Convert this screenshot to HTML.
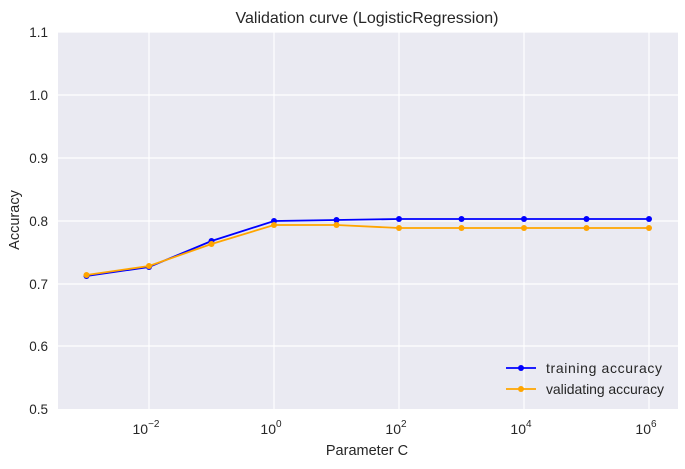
<!DOCTYPE html>
<html><head><meta charset="utf-8"><style>
body{margin:0;background:#fff;}
svg text{font-family:"Liberation Sans","DejaVu Sans",sans-serif;fill:#262626;}
</style></head><body>
<svg width="685" height="464" xmlns="http://www.w3.org/2000/svg">
<rect x="0" y="0" width="685" height="464" fill="#fff"/>
<rect x="58" y="32" width="620" height="377" fill="#eaeaf2"/>
<g stroke="#fff" stroke-width="1.2">
<line x1="58" x2="678" y1="32" y2="32"/><line x1="58" x2="678" y1="95" y2="95"/>
<line x1="58" x2="678" y1="158" y2="158"/><line x1="58" x2="678" y1="221" y2="221"/>
<line x1="58" x2="678" y1="284" y2="284"/><line x1="58" x2="678" y1="346" y2="346"/>
<line x1="149" x2="149" y1="32" y2="409"/><line x1="274" x2="274" y1="32" y2="409"/>
<line x1="399" x2="399" y1="32" y2="409"/><line x1="524" x2="524" y1="32" y2="409"/>
<line x1="649" x2="649" y1="32" y2="409"/>
</g>
<g font-size="13.5" text-anchor="end">
<text x="48" y="37">1.1</text><text x="48" y="100">1.0</text><text x="48" y="163">0.9</text>
<text x="48" y="226">0.8</text><text x="48" y="289">0.7</text><text x="48" y="351">0.6</text>
<text x="48" y="414">0.5</text>
</g>
<g font-size="14" text-anchor="middle">
<text x="146" y="434">10<tspan font-size="10" dy="-7">−2</tspan></text>
<text x="271" y="434">10<tspan font-size="10" dy="-7">0</tspan></text>
<text x="396" y="434">10<tspan font-size="10" dy="-7">2</tspan></text>
<text x="521" y="434">10<tspan font-size="10" dy="-7">4</tspan></text>
<text x="646" y="434">10<tspan font-size="10" dy="-7">6</tspan></text>
</g>
<text x="367" y="455" font-size="14.5" text-anchor="middle">Parameter C</text>
<text x="19" y="220" font-size="14.5" text-anchor="middle" transform="rotate(-90 19 220)">Accuracy</text>
<text x="367" y="23" font-size="16" text-anchor="middle">Validation curve (LogisticRegression)</text>
<polyline fill="none" stroke="#0000ff" stroke-width="1.8" points="86.5,276 149,267 211.5,241 274,221 336.5,220 399,219 461.5,219 524,219 586.5,219 649,219"/>
<g fill="#0000ff"><circle cx="86.5" cy="276" r="3"/><circle cx="149" cy="267" r="3"/><circle cx="211.5" cy="241" r="3"/><circle cx="274" cy="221" r="3"/><circle cx="336.5" cy="220" r="3"/><circle cx="399" cy="219" r="3"/><circle cx="461.5" cy="219" r="3"/><circle cx="524" cy="219" r="3"/><circle cx="586.5" cy="219" r="3"/><circle cx="649" cy="219" r="3"/></g>
<polyline fill="none" stroke="#ffa500" stroke-width="1.8" points="86.5,275 149,266 211.5,244 274,225 336.5,225 399,228 461.5,228 524,228 586.5,228 649,228"/>
<g fill="#ffa500"><circle cx="86.5" cy="275" r="3"/><circle cx="149" cy="266" r="3"/><circle cx="211.5" cy="244" r="3"/><circle cx="274" cy="225" r="3"/><circle cx="336.5" cy="225" r="3"/><circle cx="399" cy="228" r="3"/><circle cx="461.5" cy="228" r="3"/><circle cx="524" cy="228" r="3"/><circle cx="586.5" cy="228" r="3"/><circle cx="649" cy="228" r="3"/></g>
<line x1="506" x2="536" y1="368" y2="368" stroke="#0000ff" stroke-width="1.8"/><circle cx="521" cy="368" r="3" fill="#0000ff"/>
<line x1="506" x2="536" y1="389" y2="389" stroke="#ffa500" stroke-width="1.8"/><circle cx="521" cy="389" r="3" fill="#ffa500"/>
<text x="546" y="373" font-size="14" textLength="116">training accuracy</text>
<text x="546" y="394" font-size="14" textLength="118">validating accuracy</text>
</svg>
</body></html>
